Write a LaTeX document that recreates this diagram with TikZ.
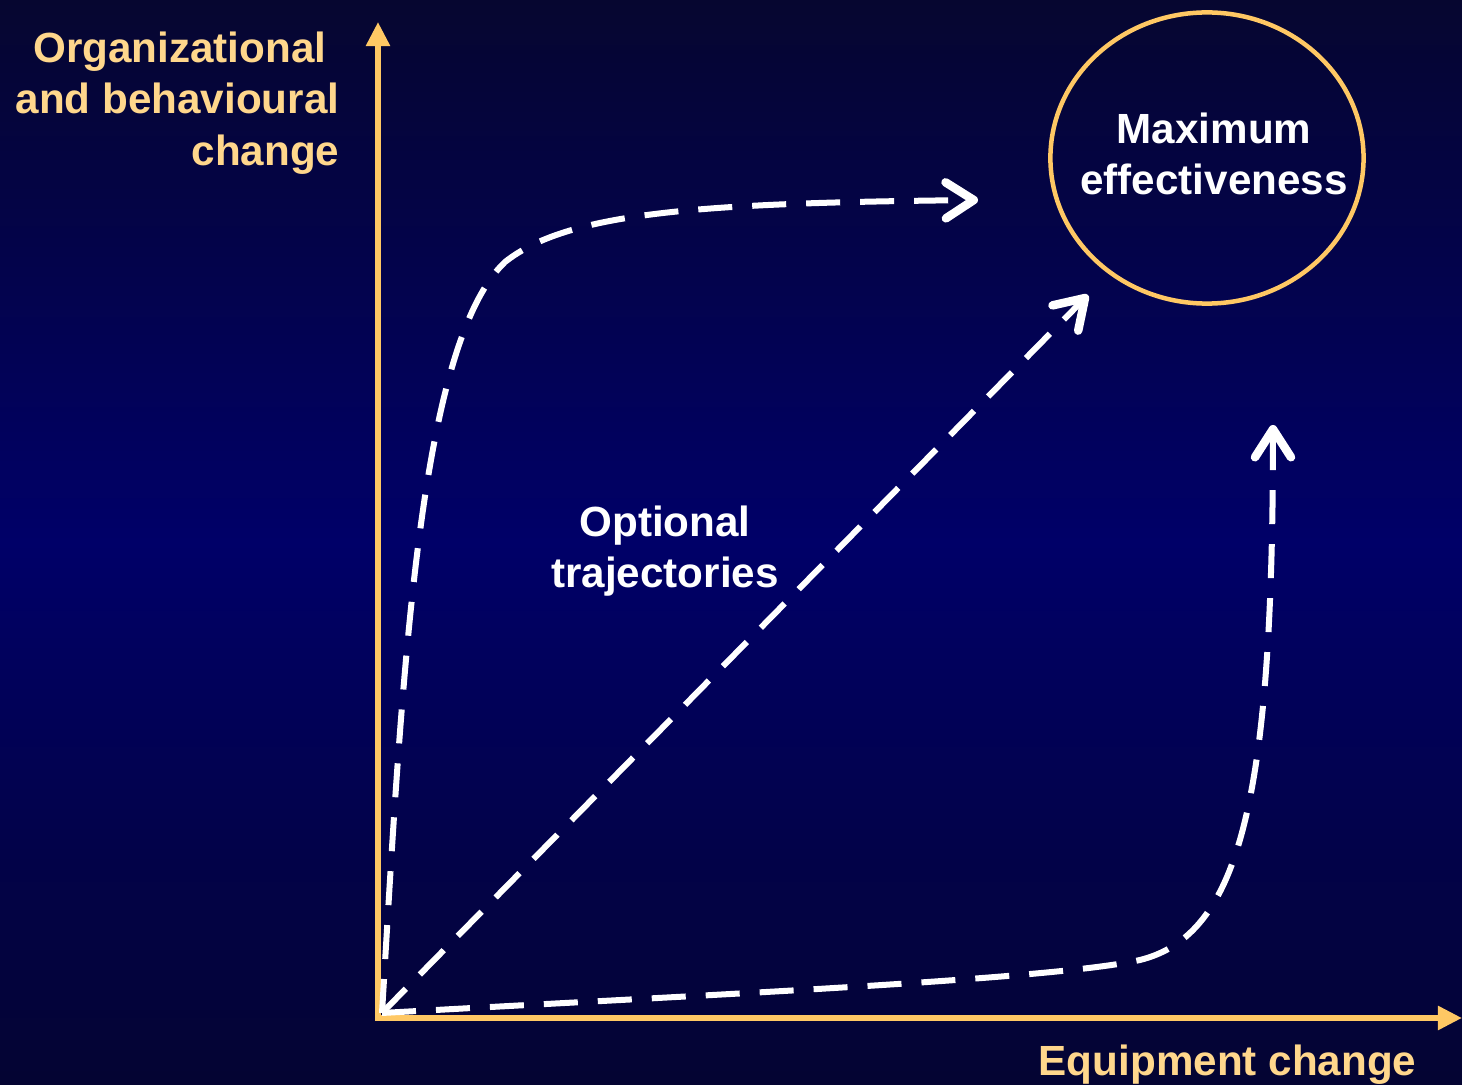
\documentclass[tikz,border=0pt]{standalone}
\usepackage{fontspec}
\setmainfont{Liberation Sans}
\usetikzlibrary{arrows.meta}
\definecolor{bgtop}{RGB}{6,6,48}
\definecolor{bgmid}{RGB}{0,0,104}
\definecolor{bgbot}{RGB}{4,4,50}
\definecolor{axiscol}{RGB}{255,200,100}
\definecolor{labelcol}{RGB}{255,215,140}

\begin{document}
\begin{tikzpicture}
[x=0.01cm,y=-0.01cm]
\tikzset{axis/.style={axiscol,line width=0.055cm,{Triangle[length=0.24cm,width=0.23cm]}-{Triangle[length=0.24cm,width=0.23cm]}},
traj/.style={white,line width=0.06cm,dash pattern=on 0.34cm off 0.2cm,-{Straight Barb[length=0.28cm,width=0.36cm,line width=0.085cm,round]}},
lbl/.style={labelcol,font=\fontsize{12}{14.6}\selectfont\bfseries},
txt/.style={white,font=\fontsize{12}{14.6}\selectfont\bfseries,align=center}}
\shade[top color=bgtop,bottom color=bgbot,middle color=bgmid] (0,0) rectangle (1462,1085);
\useasboundingbox (0,0) rectangle (1462,1085);

\coordinate (o) at (378,1018);
\coordinate (ytop) at (378,22);
\coordinate (xend) at (1462,1018);
\coordinate (s) at (382,1013);
\coordinate (t1) at (978,200);
\coordinate (t2) at (1088,295);
\coordinate (t3) at (1273,425);

\node [lbl,align=right,inner sep=0,anchor=east] (ylabel) at (340,103) {Organizational\hspace*{0.13cm}\\and behavioural\\change};
\node [lbl,inner sep=0,anchor=east] (xlabel) at (1417,1065) {Equipment change};
\node [txt] (opt) at (665,551) {Optional\\trajectories};
\node [txt] (goal) at (1214,154) {Maximum\\effectiveness};
\draw[axiscol,line width=0.045cm] (1207,158) ellipse [x radius=1.565cm,y radius=1.455cm];

\draw[axis] (ytop) -- (o) -- (xend);

\draw[traj] (s) .. controls (402,680) and (418,345) .. (505,262) .. controls (568,212) and (700,203) .. (t1);
\draw[traj] (s) -- (t2);
\draw[traj] (s) .. controls (700,995) and (1050,980) .. (1140,960) .. controls (1240,935) and (1273,800) .. (t3);

\end{tikzpicture}
\end{document}
